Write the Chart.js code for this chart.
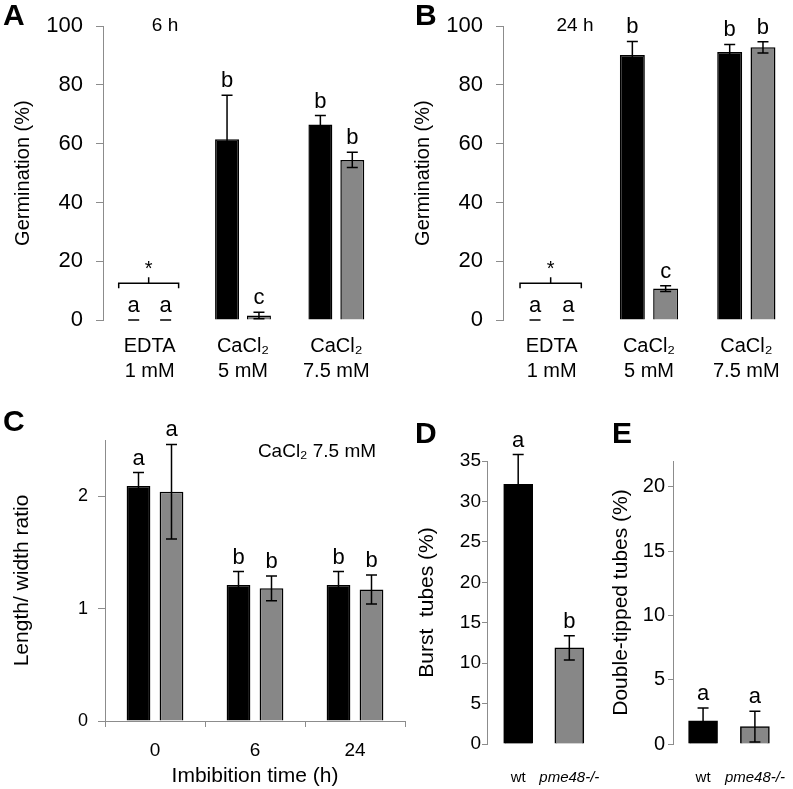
<!DOCTYPE html>
<html>
<head>
<meta charset="utf-8">
<script src="https://cdn.jsdelivr.net/npm/chart.js@4.4.1/dist/chart.umd.min.js"></script>
<style>
html, body { margin: 0; padding: 0; background: #fff; overflow: hidden; width: 793px; height: 789px; }
canvas { position: absolute; }
.lab { position: absolute; font: bold 30px "Liberation Sans", Arial, sans-serif; line-height: 1; }
</style>
</head>
<body>
<canvas id="cA" style="left:0;top:0" width="395" height="395"></canvas>
<canvas id="cB" style="left:400px;top:0" width="400" height="395"></canvas>
<canvas id="cC" style="left:0;top:400px" width="410" height="389"></canvas>
<canvas id="cD" style="left:400px;top:400px" width="205" height="389"></canvas>
<canvas id="cE" style="left:600px;top:400px" width="193" height="389"></canvas>
<div class="lab" style="left:3px;top:0">A</div>
<div class="lab" style="left:415px;top:0">B</div>
<div class="lab" style="left:3px;top:406px">C</div>
<div class="lab" style="left:415px;top:418px">D</div>
<div class="lab" style="left:612px;top:418px">E</div>
<script>
// panels A/B: germination
const treatments = [['EDTA', '1 mM'], ['CaCl₂', '5 mM'], ['CaCl₂', '7.5 mM']];
const germ6hWt = [0, 61.5, 66.5];
const germ6hWtErr = [0, 15, 3.1];
const germ6hMut = [0, 1.5, 54.5];
const germ6hMutErr = [0, 1.1, 2.6];
const germ24hWt = [0, 90.2, 91.2];
const germ24hWtErr = [0, 4.6, 2.6];
const germ24hMut = [0, 10.7, 92.8];
const germ24hMutErr = [0, 1.0, 1.9];
const germWtLetters = ['a', 'b', 'b'];
const germMutLetters = ['a', 'c', 'b'];
const bracketLevel = 12.5;

// panel C: length/width ratio
const imbibition = ['0', '6', '24'];
const ratioWt = [2.09, 1.21, 1.21];
const ratioWtErr = [0.12, 0.12, 0.12];
const ratioMut = [2.04, 1.18, 1.17];
const ratioMutErr = [0.42, 0.11, 0.13];
const ratioWtLetters = ['a', 'b', 'b'];
const ratioMutLetters = ['a', 'b', 'b'];

// panels D/E
const genotypes = ['wt', 'pme48-/-'];
const burst = [32.1, 11.9];
const burstErr = [3.7, 1.5];
const burstLetters = ['a', 'b'];
const doubleTip = [1.8, 1.35];
const doubleTipErr = [1.0, 1.2];
const doubleTipLetters = ['a', 'a'];

const FAM = '"Liberation Sans", Arial, sans-serif';
Chart.defaults.font.family = FAM;
Chart.defaults.color = '#000';
const AXIS = '#8c8c8c';
const GREY = '#878787';

const errorBars = {
  id: 'errorBars',
  afterDatasetsDraw(chart) {
    const ctx = chart.ctx, y = chart.scales.y;
    ctx.save();
    ctx.strokeStyle = '#000';
    ctx.lineWidth = 1.5;
    ctx.fillStyle = '#000';
    ctx.textAlign = 'center';
    ctx.textBaseline = 'alphabetic';
    ctx.font = '22px ' + FAM;
    chart.data.datasets.forEach((ds, i) => {
      chart.getDatasetMeta(i).data.forEach((bar, j) => {
        const d = ds.data[j];
        const v = typeof d === 'object' ? d.y : d;
        const e = ds.errors[j];
        const top = y.getPixelForValue(v + e), bot = y.getPixelForValue(v - e);
        ctx.beginPath();
        ctx.moveTo(bar.x, top); ctx.lineTo(bar.x, bot);
        ctx.moveTo(bar.x - 5.5, top); ctx.lineTo(bar.x + 5.5, top);
        ctx.moveTo(bar.x - 5.5, bot); ctx.lineTo(bar.x + 5.5, bot);
        ctx.stroke();
        if (ds.letters) ctx.fillText(ds.letters[j], bar.x, top - 8);
      });
    });
    ctx.restore();
  }
};

function notePlugin(text, dx, y, size) {
  return {
    id: 'note',
    afterDraw(chart) {
      const ctx = chart.ctx;
      ctx.save();
      ctx.fillStyle = '#000';
      ctx.font = size + 'px ' + FAM;
      ctx.textAlign = 'center';
      ctx.textBaseline = 'middle';
      ctx.fillText(text, chart.chartArea.left + dx, y);
      ctx.restore();
    }
  };
}

const bracket = {
  id: 'bracket',
  afterDatasetsDraw(chart) {
    const ctx = chart.ctx;
    const b0 = chart.getDatasetMeta(0).data[0], b1 = chart.getDatasetMeta(1).data[0];
    const yy = chart.scales.y.getPixelForValue(bracketLevel);
    const l = b0.x - 15, r = b1.x + 13, m = (l + r) / 2;
    ctx.save();
    ctx.strokeStyle = '#000';
    ctx.lineWidth = 1.5;
    ctx.beginPath();
    ctx.moveTo(l, yy + 5); ctx.lineTo(l, yy); ctx.lineTo(r, yy); ctx.lineTo(r, yy + 5);
    ctx.moveTo(m, yy); ctx.lineTo(m, yy - 6);
    ctx.stroke();
    ctx.fillStyle = '#000';
    ctx.font = '20px ' + FAM;
    ctx.textAlign = 'center';
    ctx.fillText('*', m, yy - 8);
    ctx.restore();
  }
};

function yAxis(opts) {
  return {
    min: 0, max: opts.max,
    ticks: {
      stepSize: opts.step, includeBounds: false, padding: opts.pad,
      font: { size: opts.size },
      callback: v => (v % opts.step === 0 ? v : '')
    },
    grid: { drawOnChartArea: false, tickLength: opts.tick, color: AXIS },
    border: { color: AXIS, width: 1 },
    title: { display: true, text: opts.title, font: { size: opts.tsize || 21 }, padding: { top: opts.tpad, bottom: 0 } },
    afterFit(s) { s.width = opts.width; }
  };
}

function germChart(id, wt, wtErr, mut, mutErr, note, dx) {
  new Chart(document.getElementById(id), {
    type: 'bar',
    data: {
      labels: treatments,
      datasets: [
        { data: wt, errors: wtErr, letters: germWtLetters, backgroundColor: '#000', borderColor: '#000', borderWidth: 1.5 },
        { data: mut, errors: mutErr, letters: germMutLetters, backgroundColor: GREY, borderColor: '#000', borderWidth: 1.5 }
      ]
    },
    options: {
      responsive: false, animation: false,
      layout: { padding: { top: 13, right: id === 'cA' ? 12 : 5, left: 0, bottom: 0 } },
      categoryPercentage: 0.684, barPercentage: 0.75,
      plugins: { legend: { display: false }, tooltip: { enabled: false } },
      scales: {
        x: {
          grid: { display: false, drawTicks: false }, border: { display: false },
          ticks: { font: { size: 20, lineHeight: 1.25 }, padding: 14, maxRotation: 0 },
          afterFit(s) { s.height = 75; }
        },
        y: yAxis({ max: 100, step: 20, size: 22, pad: 13, tick: 7, width: 103, title: 'Germination (%)', tpad: 11, tsize: 20 })
      }
    },
    plugins: [errorBars, bracket, notePlugin(note, dx, 26, 19)]
  });
}

germChart('cA', germ6hWt, germ6hWtErr, germ6hMut, germ6hMutErr, '6 h', 62);
germChart('cB', germ24hWt, germ24hWtErr, germ24hMut, germ24hMutErr, '24 h', 72);

new Chart(document.getElementById('cC'), {
  type: 'bar',
  data: {
    labels: imbibition,
    datasets: [
      { data: ratioWt, errors: ratioWtErr, letters: ratioWtLetters, backgroundColor: '#000', borderColor: '#000', borderWidth: 1.5 },
      { data: ratioMut, errors: ratioMutErr, letters: ratioMutLetters, backgroundColor: GREY, borderColor: '#000', borderWidth: 1.5 }
    ]
  },
  options: {
    responsive: false, animation: false,
    layout: { padding: { top: 40, right: 5, left: 0, bottom: 0 } },
    categoryPercentage: 0.66, barPercentage: 0.72,
    plugins: { legend: { display: false }, tooltip: { enabled: false } },
    scales: {
      x: {
        grid: { drawOnChartArea: false, offset: true, tickLength: 6, color: AXIS },
        border: { color: AXIS, width: 1 },
        ticks: { font: { size: 19 }, padding: 12 },
        title: { display: true, text: 'Imbibition time (h)', font: { size: 21 }, padding: { top: 0, bottom: 0 } },
        afterFit(s) { s.height = 68; }
      },
      y: yAxis({ max: 2.5, step: 1, size: 18, pad: 10, tick: 7, width: 105, title: 'Length/ width ratio', tpad: 10 })
    }
  },
  plugins: [errorBars, notePlugin('CaCl₂ 7.5 mM', 212, 52, 19)]
});

function genoChart(id, vals, errs, letters, yopts, xmin, padRight) {
  new Chart(document.getElementById(id), {
    type: 'bar',
    data: {
      datasets: [{
        data: vals.map((v, i) => ({ x: i + 1, y: v })),
        errors: errs, letters: letters,
        backgroundColor: ['#000', GREY], borderColor: '#000', borderWidth: 1.5,
        barThickness: 29
      }]
    },
    options: {
      responsive: false, animation: false,
      layout: { padding: { top: 61, right: padRight, left: 0, bottom: 0 } },
      plugins: { legend: { display: false }, tooltip: { enabled: false } },
      scales: {
        x: {
          type: 'linear', min: xmin, max: 2.6, offset: false,
          grid: { display: false, drawTicks: false }, border: { display: false },
          afterBuildTicks(s) { s.ticks = genotypes.map((g, i) => ({ value: i + 1 })); },
          ticks: {
            padding: 25,
            font: c => ({ size: 15, style: c.index === 1 ? 'italic' : 'normal' }),
            callback: v => genotypes[v - 1]
          },
          afterFit(s) { s.height = 45; s.paddingLeft = 0; s.paddingRight = 0; }
        },
        y: yAxis(yopts)
      }
    },
    plugins: [errorBars]
  });
}

genoChart('cD', burst, burstErr, burstLetters,
  { max: 35, step: 5, size: 19, pad: 1, tick: 5, width: 87, title: 'Burst  tubes (%)', tpad: 15 }, 0.39, 5);
genoChart('cE', doubleTip, doubleTipErr, doubleTipLetters,
  { max: 22, step: 5, size: 20, pad: 3, tick: 5, width: 73, title: 'Double-tipped tubes (%)', tpad: 9 }, 0.42, 7);
</script>
</body>
</html>
